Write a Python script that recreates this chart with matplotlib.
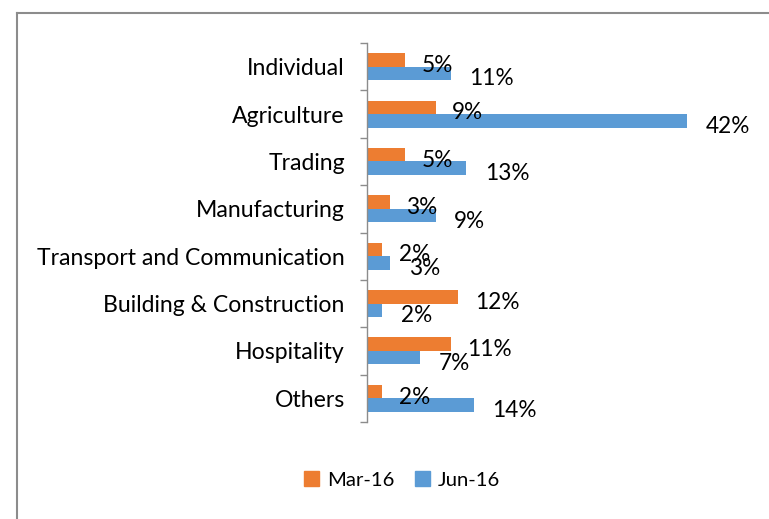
import matplotlib
matplotlib.use("Agg")
import matplotlib.pyplot as plt
import matplotlib.patches as mpatches
import numpy as np

categories = ["Individual", "Agriculture", "Trading", "Manufacturing",
              "Transport and Communication", "Building & Construction",
              "Hospitality", "Others"]
mar16 = [5, 9, 5, 3, 2, 12, 11, 2]
jun16 = [11, 42, 13, 9, 3, 2, 7, 14]
series_names = ["Mar-16", "Jun-16"]

ORANGE = "#ED7D31"
BLUE = "#5B9BD5"
FONT = ["Lato", "DejaVu Sans"]

W, H = 769, 519
fig = plt.figure(figsize=(W / 100, H / 100), dpi=100)
fig.patch.set_facecolor("white")

# outer border
fig.add_artist(plt.Line2D([17 / W, 17 / W], [0, 1 - 13 / H], color="#8c8c8c", lw=1.5,
                          transform=fig.transFigure))
fig.add_artist(plt.Line2D([17 / W, 1], [1 - 13 / H, 1 - 13 / H], color="#8c8c8c", lw=1.5,
                          transform=fig.transFigure))

left_px, top_px, bottom_px = 367, 43, 422
px_per_unit = 320 / 42
xmax = 50
ax = fig.add_axes([left_px / W, 1 - bottom_px / H, xmax * px_per_unit / W,
                   (bottom_px - top_px) / H])

n = len(categories)
y = np.arange(n)
bh = 0.285
ax.barh(y - bh / 2, mar16, height=bh, color=ORANGE, label=series_names[0])
ax.barh(y + bh / 2, jun16, height=bh, color=BLUE, label=series_names[1])

for yi, v in zip(y - bh / 2, mar16):
    ax.annotate(f"{v}%", (v, yi), xytext=(12, -4), textcoords="offset points",
                ha="left", va="center", fontsize=16.3, family=FONT, color="#000000")
for yi, v in zip(y + bh / 2, jun16):
    ax.annotate(f"{v}%", (v, yi), xytext=(13.5, -4), textcoords="offset points",
                ha="left", va="center", fontsize=16.3, family=FONT, color="#000000")

ax.set_xlim(0, xmax)
ax.set_ylim(n - 0.5, -0.5)
ax.set_yticks(y)
ax.set_yticklabels(categories, family=FONT, fontsize=16.6)
ax.set_yticks(np.arange(n + 1) - 0.5, minor=True)
ax.tick_params(axis="y", which="major", length=0, pad=16)
ax.tick_params(axis="y", which="minor", length=5, width=1, color="#8c8c8c")
ax.set_xticks([])
for s in ["top", "right", "bottom"]:
    ax.spines[s].set_visible(False)
ax.spines["left"].set_color("#8c8c8c")
ax.spines["left"].set_linewidth(1)

handles = [mpatches.Patch(color=ORANGE, label=series_names[0]),
           mpatches.Patch(color=BLUE, label=series_names[1])]
fig.legend(handles=handles, loc="center", bbox_to_anchor=(402 / W, 1 - 480 / H),
           ncol=2, frameon=False, prop={"family": FONT, "size": 14.6},
           handlelength=0.75, handleheight=0.75, handletextpad=0.4, columnspacing=1.0)

fig.savefig("out.png", dpi=100)
